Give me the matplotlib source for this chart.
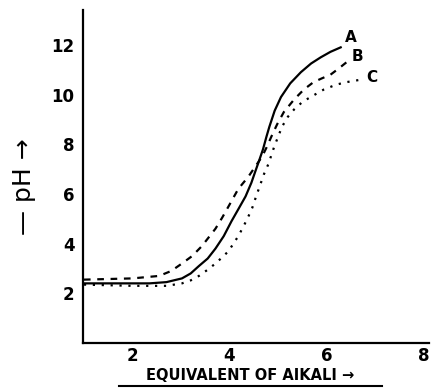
import numpy as np
import matplotlib.pyplot as plt
from matplotlib.lines import Line2D

# curve values
xa = [1.0, 1.8, 2.35, 2.7, 3.02, 3.2, 3.37, 3.55, 3.71, 3.88, 4.04, 4.2, 4.33, 4.45, 4.53,
      4.62, 4.69, 4.76, 4.82, 4.93, 5.06, 5.25, 5.47, 5.68, 5.88, 6.08, 6.29]
ya = [2.4, 2.4, 2.4, 2.45, 2.6, 2.8, 3.1, 3.4, 3.8, 4.3, 4.9, 5.45, 5.9, 6.45, 6.9,
      7.4, 7.8, 8.3, 8.7, 9.35, 9.9, 10.45, 10.9, 11.25, 11.5, 11.72, 11.9]

xb = [1.0, 2.0, 2.55, 2.8, 3.02, 3.23, 3.43, 3.57, 3.71, 3.85, 3.98, 4.18, 4.39, 4.53, 4.67,
      4.77, 4.86, 4.98, 5.12, 5.33, 5.53, 5.73, 5.9, 6.08, 6.25, 6.41]
yb = [2.55, 2.6, 2.7, 2.9, 3.2, 3.5, 3.9, 4.25, 4.6, 5.05, 5.5, 6.2, 6.7, 7.1, 7.5,
      7.9, 8.3, 8.8, 9.3, 9.8, 10.2, 10.5, 10.65, 10.8, 11.05, 11.3]

xc = [1.0, 2.0, 2.7, 3.02, 3.2, 3.37, 3.55, 3.71, 3.85, 3.98, 4.08, 4.18, 4.29, 4.39, 4.47,
      4.53, 4.62, 4.71, 4.8, 4.92, 5.08, 5.2, 5.33, 5.5, 5.67, 5.94, 6.2, 6.41, 6.71]
yc = [2.35, 2.3, 2.3, 2.4, 2.52, 2.7, 2.95, 3.2, 3.45, 3.7, 4.0, 4.3, 4.7, 5.1, 5.45,
      5.8, 6.3, 6.8, 7.2, 7.9, 8.7, 9.1, 9.4, 9.7, 9.9, 10.2, 10.4, 10.5, 10.6]

xticks = [2, 4, 6, 8]
yticks = [2, 4, 6, 8, 10, 12]

fig = plt.figure(figsize=(4.32, 3.88), dpi=100)
ax = fig.add_axes([0.192, 0.116, 0.80, 0.858])

ax.plot(xa, ya, color='black', lw=1.6, ls='-', solid_joinstyle='round')
ax.plot(xb, yb, color='black', lw=1.6, ls=(0, (3, 3)))
ax.plot(xc, yc, color='black', lw=1.6, ls=(0, (1, 3)))

ax.text(xa[-1] + 0.08, ya[-1] + 0.2, 'A', fontsize=11, fontweight='bold')
ax.text(xb[-1] + 0.1, yb[-1] + 0.05, 'B', fontsize=11, fontweight='bold')
ax.text(xc[-1] + 0.1, yc[-1] - 0.1, 'C', fontsize=11, fontweight='bold')

ax.set_xlim(0.98, 8.1)
ax.set_ylim(0, 13.4)
ax.set_xticks(xticks)
ax.set_yticks(yticks)
ax.tick_params(axis='y', length=0, labelsize=12, pad=6)
ax.tick_params(axis='x', length=0, labelsize=12, pad=3)
for lab in ax.get_xticklabels() + ax.get_yticklabels():
    lab.set_fontweight('bold')
ax.spines['top'].set_visible(False)
ax.spines['right'].set_visible(False)
ax.spines['left'].set_linewidth(1.6)
ax.spines['bottom'].set_linewidth(1.6)

fig.text(0.055, 0.52, '— pH →', rotation=90, fontsize=18, ha='center', va='center')
fig.text(0.58, 0.013, 'EQUIVALENT OF AIKALI →', fontsize=10.5, fontweight='bold',
         ha='center', va='bottom')
fig.add_artist(Line2D([0.275, 0.885], [0.006, 0.006], color='black', lw=1.5))

fig.savefig('out.png', dpi=100)
